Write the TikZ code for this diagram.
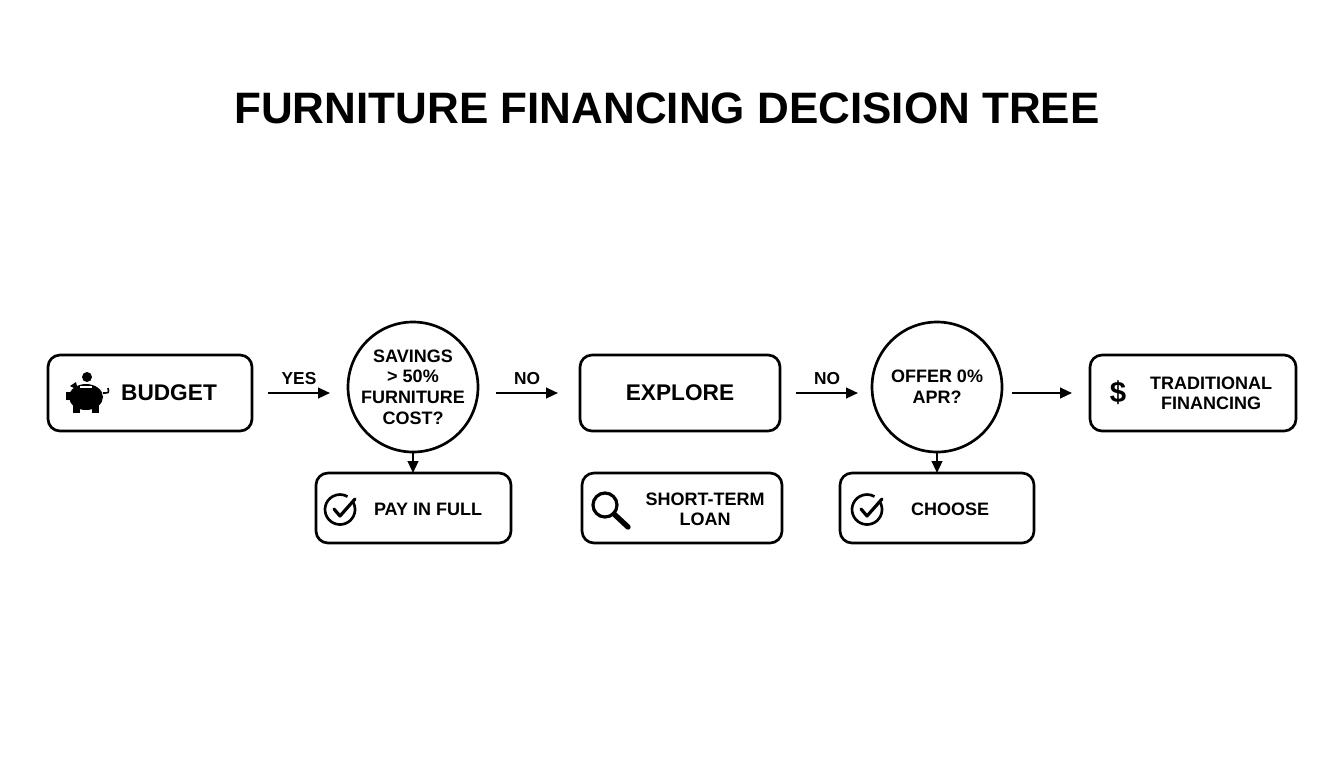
\documentclass[tikz,border=0pt]{standalone}
\usepackage{fontspec}
\setmainfont{Liberation Sans}
\usetikzlibrary{arrows.meta}
\begin{document}
\begin{tikzpicture}[x=0.75pt,y=-0.75pt,
 box/.style={draw,line width=2pt,rounded corners=9pt,inner sep=0pt},
 dec/.style={draw,circle,line width=2pt,minimum size=97.5pt,inner sep=0pt,align=center,font=\bfseries\fontsize{13.5}{15.5}\selectfont},
 lab/.style={font=\bfseries\fontsize{17}{19}\selectfont},
 slab/.style={font=\bfseries\fontsize{13.5}{15}\selectfont,align=center},
 arr/.style={-{Triangle[length=9pt,width=8pt]},line width=1.6pt},
 elab/.style={font=\bfseries\fontsize{13}{15}\selectfont}]
\useasboundingbox[fill=white] (0,0) rectangle (1344,768);
\node[font=\bfseries\fontsize{33}{38}\selectfont] (title) at (667,108) {FURNITURE FINANCING DECISION TREE};
% boxes
\draw[box] (48,355) rectangle (252,431);
\node[lab] (budt) at (169,393) {BUDGET};
\node[dec] (q1) at (413,387) {SAVINGS\\> 50\%\\FURNITURE\\COST?};
\draw[box] (580,355) rectangle (780,431);
\node[lab] (exp) at (680,393) {EXPLORE};
\node[dec] (q2) at (937,387) {OFFER 0\%\\APR?};
\draw[box] (1090,355) rectangle (1296,431);
\node[slab] (trad) at (1211,393) {TRADITIONAL\\FINANCING};
\node[font=\bfseries\fontsize{22}{24}\selectfont] (dol) at (1118,393) {\$};
\draw[box] (316,473) rectangle (511,543);
\node[slab] (pay) at (428,509) {PAY IN FULL};
\draw[box] (582,473) rectangle (782,543);
\node[slab] (st) at (705,509) {SHORT-TERM\\LOAN};
\draw[box] (840,473) rectangle (1034,543);
\node[slab] (ch) at (950,509) {CHOOSE};
% arrows
\coordinate (a1s) at (268,393); \coordinate (a1e) at (330,393);
\draw[arr] (a1s) -- (a1e) node[elab,midway,above=2pt] {YES};
\coordinate (a2s) at (496,393); \coordinate (a2e) at (558,393);
\draw[arr] (a2s) -- (a2e) node[elab,midway,above=2pt] {NO};
\coordinate (a3s) at (796,393); \coordinate (a3e) at (858,393);
\draw[arr] (a3s) -- (a3e) node[elab,midway,above=2pt] {NO};
\coordinate (a4s) at (1012,393); \coordinate (a4e) at (1072,393);
\draw[arr] (a4s) -- (a4e);
\coordinate (d1) at (413,473); \draw[arr] (q1.south) -- (d1);
\coordinate (d2) at (937,473); \draw[arr] (q2.south) -- (d2);
% piggy icon
\fill (87,377) circle (5);
\fill (86,397) ellipse (17 and 13);
\fill (70,386) -- (76,382) -- (78,390) -- cycle;
\fill (66,392) rectangle (72,400);
\fill (73,403) rectangle (80,413);
\fill (92,403) rectangle (99,413);
\draw[line width=1.2pt] (103,393) .. controls (109,393) .. (108,388);
\draw[white,line width=1.3pt] (80,387) -- (92,387);
% check icons
\foreach \cx/\cy in {341/509, 868/509}{
 \draw[line width=2pt] (\cx+12,\cy-7) arc (-30:300:15);
 \draw[line width=2.4pt,line join=round,line cap=round] (\cx-7,\cy) -- (\cx-1,\cy+7) -- (\cx+14,\cy-10);
}
% magnifier
\draw[line width=2.4pt] (605,505) circle (12);
\draw[line width=4pt,line cap=round] (614,514) -- (628,527);
\end{tikzpicture}
\end{document}
